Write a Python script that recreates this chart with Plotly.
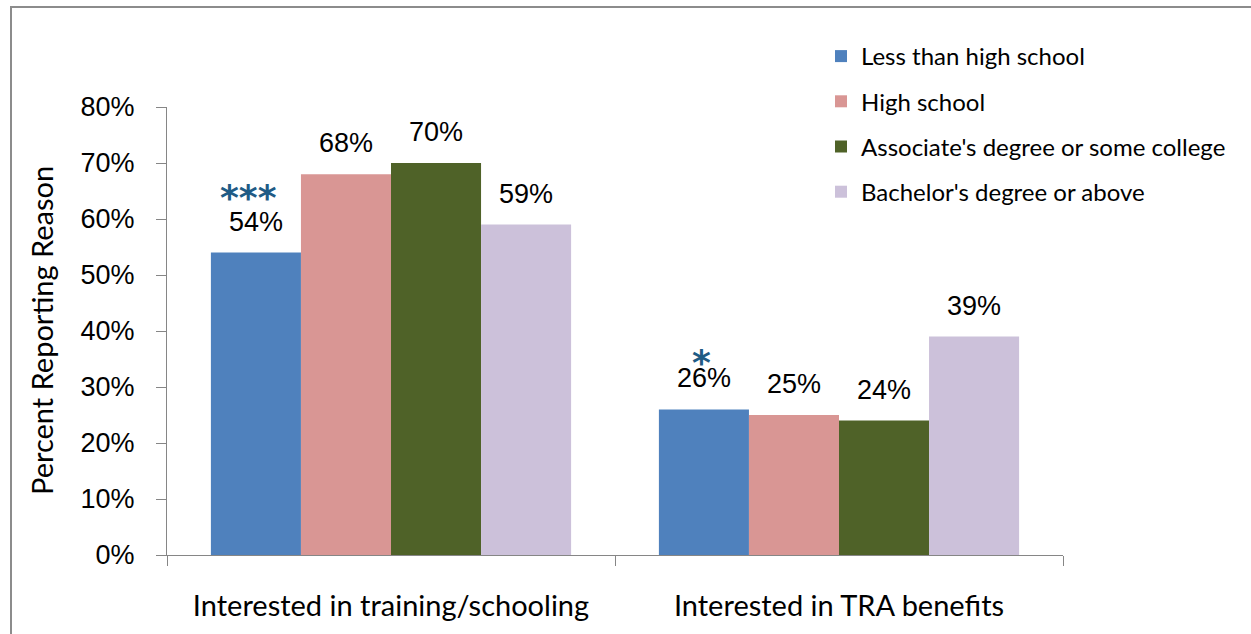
import plotly.graph_objects as go

# Reasons for participation, by education level
categories = ["Interested in training/schooling", "Interested in TRA benefits"]
series_names = [
    "Less than high school",
    "High school",
    "Associate's degree or some college",
    "Bachelor's degree or above",
]
values = [
    [54, 26],   # Less than high school
    [68, 25],   # High school
    [70, 24],   # Associate's degree or some college
    [59, 39],   # Bachelor's degree or above
]
significance = [
    ["***", "*"],
    ["", ""],
    ["", ""],
    ["", ""],
]
y_ticks = [0, 10, 20, 30, 40, 50, 60, 70, 80]

colors = ["#4F81BD", "#D99694", "#4F6228", "#CCC1DA"]
star_color = "#1F5B85"
axis_gray = "#868686"
num_font = "Liberation Sans"
text_font = "Lato"

group_gap = 0.196
bar_w = (1 - group_gap) / len(series_names)

fig = go.Figure()
annotations = []
for j, name in enumerate(series_names):
    xs = [i + (j - (len(series_names) - 1) / 2) * bar_w for i in range(len(categories))]
    fig.add_trace(go.Bar(
        x=xs, y=values[j], width=bar_w, name=name,
        marker=dict(color=colors[j], line=dict(width=0)),
        legendgroup=name, hoverinfo="skip",
    ))
    for xv, yv, sig in zip(xs, values[j], significance[j]):
        annotations.append(dict(
            x=xv, y=yv, xref="x", yref="y", text=f"{yv}%", showarrow=False,
            yanchor="middle", yshift=31,
            font=dict(family=num_font, size=27, color="#000000"),
        ))
        if sig:
            annotations.append(dict(
                x=xv, y=yv, xref="x", yref="y", text=f"<b>{sig}</b>", showarrow=False,
                yanchor="middle", yshift=(55 if len(sig) > 1 else 47),
                xshift=(-7 if len(sig) > 1 else -2),
                font=dict(family="DejaVu Sans", size=36, color=star_color),
            ))

fig.update_layout(
    width=1251, height=634,
    margin=dict(l=167, r=188, t=107, b=79, autoexpand=False),
    paper_bgcolor="#FFFFFF", plot_bgcolor="#FFFFFF",
    barmode="overlay",
    showlegend=True,
    legend=dict(
        xref="container", yref="container", x=821 / 1251, y=1 - 34 / 634,
        xanchor="left", yanchor="top",
        traceorder="grouped", tracegroupgap=11,
        font=dict(family=text_font, size=24, color="#000000"),
        bgcolor="rgba(0,0,0,0)",
    ),
    xaxis=dict(
        range=[-0.5, len(categories) - 0.5],
        tickvals=list(range(len(categories))), ticktext=categories,
        ticks="", showgrid=False, zeroline=False,
        showline=True, linecolor=axis_gray, linewidth=1,
        tickfont=dict(family=text_font, size=29, color="#000000"),
        ticklabelstandoff=25,
        minor=dict(tickvals=[k - 0.5 for k in range(len(categories) + 1)],
                   ticks="outside", ticklen=10, tickcolor=axis_gray, tickwidth=1,
                   showgrid=False),
        fixedrange=True,
    ),
    yaxis=dict(
        range=[0, 80], tickvals=y_ticks, ticktext=[f"{v}%" for v in y_ticks],
        ticks="outside", ticklen=10, tickcolor=axis_gray, tickwidth=1,
        showgrid=False, zeroline=False,
        showline=True, linecolor=axis_gray, linewidth=1,
        tickfont=dict(family=num_font, size=27, color="#000000"),
        ticklabelstandoff=16,
        fixedrange=True,
    ),
    annotations=annotations + [dict(
        xref="paper", yref="paper", x=-126 / 896, y=0.5,
        text="Percent Reporting Reason", textangle=-90, showarrow=False,
        xanchor="center", yanchor="middle",
        font=dict(family=text_font, size=29, color="#000000"),
    )],
    shapes=[dict(
        type="rect", xref="paper", yref="paper",
        x0=-156 / 896, x1=1.3, y0=-0.3, y1=1 + 100 / 448,
        line=dict(color="#8C8C8C", width=2), layer="below",
    )],
)

fig.write_html("out.html", config={"displayModeBar": False})
